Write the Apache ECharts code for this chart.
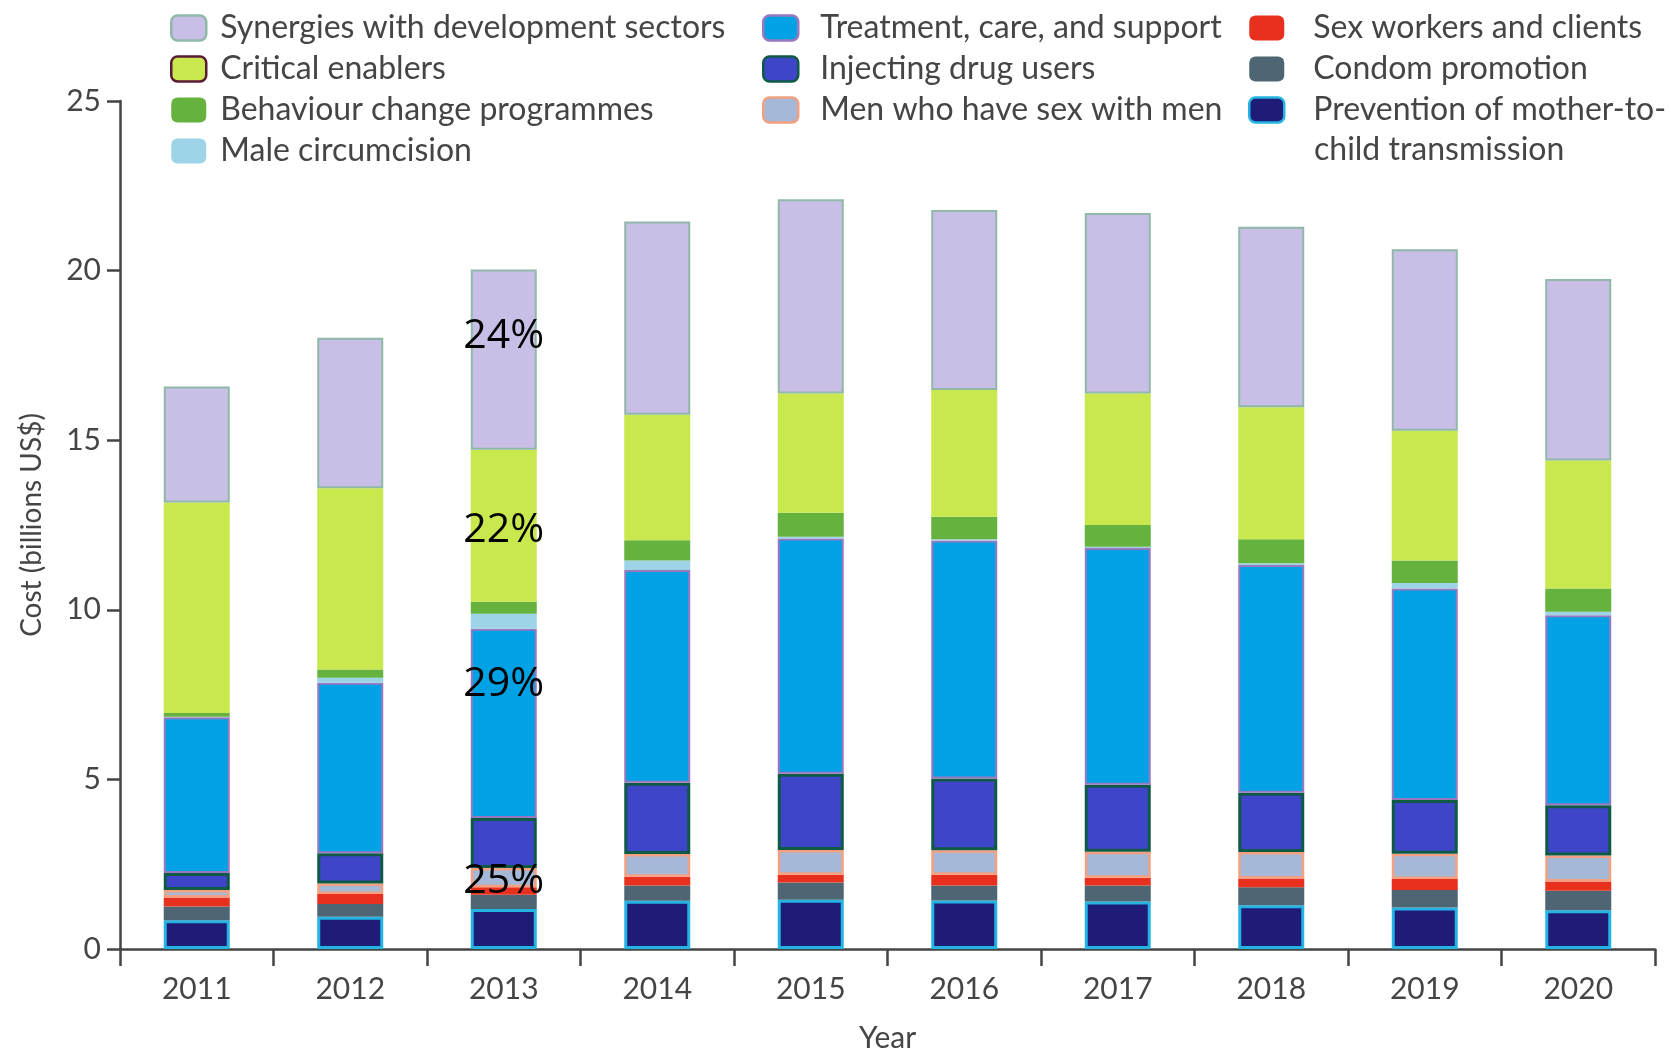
<!DOCTYPE html>
<html><head><meta charset="utf-8">
<script src="https://cdn.jsdelivr.net/npm/echarts@6/dist/echarts.min.js"></script>
<style>html,body{margin:0;padding:0;background:#fff}#c{width:1671px;height:1050px}</style>
</head><body><div id="c"></div>
<script>
const years = ['2011','2012','2013','2014','2015','2016','2017','2018','2019','2020'];
const pmtct        = [0.85, 0.95, 1.18, 1.42, 1.45, 1.43, 1.40, 1.29, 1.22, 1.14];
const condom       = [0.40, 0.38, 0.42, 0.45, 0.51, 0.44, 0.47, 0.53, 0.52, 0.58];
const sexWorkers   = [0.27, 0.29, 0.22, 0.26, 0.23, 0.32, 0.23, 0.26, 0.32, 0.27];
const msm          = [0.22, 0.31, 0.57, 0.67, 0.73, 0.72, 0.77, 0.78, 0.75, 0.77];
const idu          = [0.50, 0.89, 1.47, 2.10, 2.25, 2.12, 1.97, 1.75, 1.58, 1.48];
const treatment    = [4.59, 5.03, 5.58, 6.27, 6.93, 7.01, 6.98, 6.71, 6.24, 5.60];
const circumcision = [0.02, 0.15, 0.44, 0.28, 0.05, 0.04, 0.04, 0.05, 0.16, 0.10];
const behaviour    = [0.11, 0.24, 0.36, 0.60, 0.71, 0.66, 0.64, 0.71, 0.66, 0.69];
const critical     = [6.20, 5.34, 4.48, 3.70, 3.52, 3.74, 3.88, 3.89, 3.83, 3.77];
const synergies    = [3.42, 4.44, 5.31, 5.70, 5.72, 5.31, 5.32, 5.32, 5.35, 5.35];

const annotationYear = '2013';
const annotationLabels = ['24%', '22%', '29%', '25%'];
const annotationValues = [18.05, 12.35, 7.8, 2.0];

const FONT = 'Lato, "Open Sans", "Liberation Sans", sans-serif';
const TXT = '#454545';

const seriesDefs = [
  {name:'Prevention of mother-to-child transmission', data:pmtct, color:'#1f1c78', border:'#23b4e3', bw:3},
  {name:'Condom promotion', data:condom, color:'#4e6673', border:'#4e6673', bw:0},
  {name:'Sex workers and clients', data:sexWorkers, color:'#e8301f', border:'#e8301f', bw:0},
  {name:'Men who have sex with men', data:msm, color:'#a6b8d8', border:'#f3a080', bw:2.5},
  {name:'Injecting drug users', data:idu, color:'#3f45c9', border:'#0f5a45', bw:3},
  {name:'Treatment, care, and support', data:treatment, color:'#00a2e5', border:'#9a78c0', bw:2},
  {name:'Male circumcision', data:circumcision, color:'#9ed4e8', border:'#9ed4e8', bw:0},
  {name:'Behaviour change programmes', data:behaviour, color:'#66b23e', border:'#66b23e', bw:0},
  {name:'Critical enablers', data:critical, color:'#c8e84d', border:'#c8e84d', bw:0},
  {name:'Synergies with development sectors', data:synergies, color:'#c9bfe6', border:'#8fb8a8', bw:2}
];

const series = seriesDefs.map(d => ({
  name: d.name, type: 'bar', stack: 'total', barWidth: 66,
  data: d.data,
  itemStyle: {color: d.color, borderColor: d.border, borderWidth: d.bw},
  emphasis: {disabled: true}
}));

const legendCommon = pad => ({
  orient: 'vertical', itemWidth: 35, itemHeight: 25, itemGap: 9,
  textStyle: {fontFamily: FONT, fontSize: 32, color: TXT, lineHeight: 30, padding:[0,0,0,pad]},
  selectedMode: false
});
const legendIcon = n => {
  const d = seriesDefs.find(s => s.name === n);
  const bc = n === 'Critical enablers' ? '#5a1a35' : d.border;
  const bw = n === 'Critical enablers' ? 2.5 : (d.bw ? 2.5 : 0);
  return {name: n, itemStyle: {color: d.color, borderColor: bc, borderWidth: bw}};
};

const option = {
  backgroundColor: '#fff',
  animation: false,
  textStyle: {fontFamily: FONT},
  grid: {left: 120, right: 16, top: 101, bottom: 101, outerBoundsMode: 'none', containLabel: false},
  legend: [
    Object.assign({left: 165, top: 7, data: ['Synergies with development sectors','Critical enablers','Behaviour change programmes','Male circumcision'].map(legendIcon)}, legendCommon(9)),
    Object.assign({left: 757, top: 7, data: ['Treatment, care, and support','Injecting drug users','Men who have sex with men'].map(legendIcon)}, legendCommon(17)),
    Object.assign({left: 1243, top: 7, data: ['Sex workers and clients','Condom promotion','Prevention of mother-to-child transmission'].map(legendIcon),
      formatter: n => n === 'Prevention of mother-to-child transmission' ? 'Prevention of mother-to-' : n}, legendCommon(24))
  ],
  xAxis: {
    type: 'category', data: years, name: 'Year', nameLocation: 'middle', nameGap: 74,
    nameTextStyle: {fontFamily: FONT, fontSize: 30, color: TXT},
    axisLine: {lineStyle: {color: '#444', width: 2.5}},
    axisTick: {show: true, length: 17, lineStyle: {color: '#444', width: 2.5}},
    axisLabel: {fontFamily: FONT, fontSize: 30, color: TXT, margin: 25}
  },
  yAxis: {
    type: 'value', min: 0, max: 25, interval: 5,
    name: 'Cost (billions US$)', nameLocation: 'middle', nameGap: 74,
    nameTextStyle: {fontFamily: FONT, fontSize: 28, color: TXT},
    axisLine: {show: true, lineStyle: {color: '#444', width: 2.5}},
    axisTick: {show: true, length: 13, lineStyle: {color: '#444', width: 2.5}},
    axisLabel: {fontFamily: FONT, fontSize: 30, color: TXT, margin: 19},
    splitLine: {show: false}
  },
  series: series
};

const chart = echarts.init(document.getElementById('c'));
chart.setOption(option);

const graphics = annotationLabels.map((t, i) => {
  const p = chart.convertToPixel({xAxisIndex: 0, yAxisIndex: 0}, [annotationYear, annotationValues[i]]);
  return {type: 'text', x: p[0], y: p[1], z: 100, zlevel: 1, style: {text: t, fill: '#000', fontSize: 41, fontFamily: '"Open Sans", "Liberation Sans", sans-serif', align: 'center', verticalAlign: 'middle'}};
});
graphics.push({type: 'text', left: 1314, top: 134, z: 100, style: {text: 'child transmission', fill: TXT, fontSize: 32, fontFamily: FONT}});
chart.setOption({graphic: graphics});
</script>
</body></html>
